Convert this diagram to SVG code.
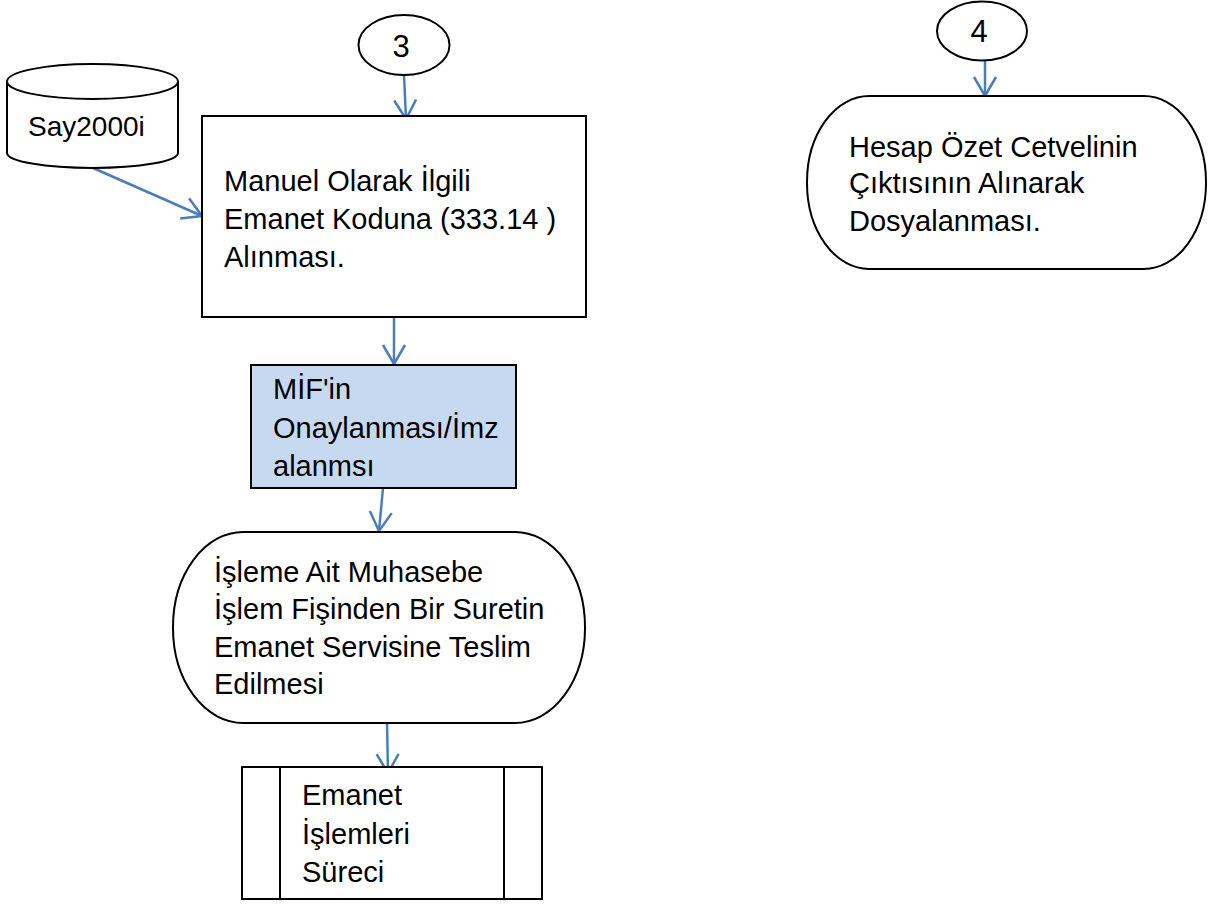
<svg xmlns="http://www.w3.org/2000/svg" width="1208" height="906" viewBox="0 0 1208 906">
<style>
.shape{fill:#fff;stroke:#000;stroke-width:2}
.txt{font-family:"Liberation Sans",Arial,sans-serif;font-size:29px;fill:#000}
.conn{stroke:#4a7ebb;stroke-width:2.5;fill:none}
</style>
<defs>
<marker id="arr" markerUnits="userSpaceOnUse" viewBox="-22 -14 26 28" refX="0" refY="0" markerWidth="26" markerHeight="28" orient="auto">
<path d="M-19,-11 L0,0 L-19,11" fill="none" stroke="#4a7ebb" stroke-width="2.5"/>
</marker>
</defs>
<rect width="1208" height="906" fill="#fff"/>
<g id="connectors">
<line class="conn" x1="404" y1="75" x2="406" y2="119" marker-end="url(#arr)"/>
<line class="conn" x1="93" y1="168" x2="202" y2="216" marker-end="url(#arr)"/>
<line class="conn" x1="394" y1="317" x2="394" y2="364" marker-end="url(#arr)"/>
<line class="conn" x1="383" y1="488" x2="379" y2="531" marker-end="url(#arr)"/>
<line class="conn" x1="387" y1="723" x2="388" y2="773" marker-end="url(#arr)"/>
<line class="conn" x1="985" y1="61" x2="985" y2="96" marker-end="url(#arr)"/>
</g>
<g id="node-3">
<ellipse class="shape" cx="404" cy="45" rx="45.5" ry="30"/>
<text class="txt" x="401" y="57" text-anchor="middle" style="font-size:31px">3</text>
</g>
<g id="node-say2000i">
<path class="shape" d="M7,81.5 L7,153 A85.5,15 0 0 0 178,153 L178,81.5 A85.5,17.5 0 0 0 7,81.5 Z"/>
<path class="shape" d="M7,81.5 A85.5,17.5 0 0 0 178,81.5" fill="none"/>
<text class="txt" x="28" y="136" style="font-size:28px">Say2000i</text>
</g>
<g id="node-manuel">
<rect class="shape" x="202" y="116" width="384" height="201"/>
<text class="txt" x="224" y="191">Manuel Olarak İlgili</text>
<text class="txt" x="224" y="229">Emanet Koduna (333.14 )</text>
<text class="txt" x="224" y="267">Alınması.</text>
</g>
<g id="node-mif">
<rect class="shape" x="251" y="365" width="265" height="123" style="fill:#c6d9f1"/>
<text class="txt" x="273" y="399">MİF'in</text>
<text class="txt" x="273" y="438">Onaylanması/İmz</text>
<text class="txt" x="273" y="476">alanmsı</text>
</g>
<g id="node-isleme">
<rect class="shape" x="173" y="532" width="412" height="191" rx="70" ry="95"/>
<text class="txt" x="214" y="582">İşleme Ait Muhasebe</text>
<text class="txt" x="214" y="619">İşlem Fişinden Bir Suretin</text>
<text class="txt" x="214" y="657">Emanet Servisine Teslim</text>
<text class="txt" x="214" y="694">Edilmesi</text>
</g>
<g id="node-emanet-surec">
<rect class="shape" x="242" y="767" width="300" height="132"/>
<line class="shape" x1="280" y1="767" x2="280" y2="899"/>
<line class="shape" x1="504" y1="767" x2="504" y2="899"/>
<text class="txt" x="302" y="805">Emanet</text>
<text class="txt" x="302" y="844">İşlemleri</text>
<text class="txt" x="302" y="882">Süreci</text>
</g>
<g id="node-4">
<ellipse class="shape" cx="982" cy="31" rx="45" ry="29.5"/>
<text class="txt" x="979" y="42" text-anchor="middle" style="font-size:31px">4</text>
</g>
<g id="node-hesap">
<rect class="shape" x="807" y="96" width="399" height="173" rx="62" ry="86"/>
<text class="txt" x="849" y="157">Hesap Özet Cetvelinin</text>
<text class="txt" x="849" y="193">Çıktısının Alınarak</text>
<text class="txt" x="849" y="231">Dosyalanması.</text>
</g>
</svg>
